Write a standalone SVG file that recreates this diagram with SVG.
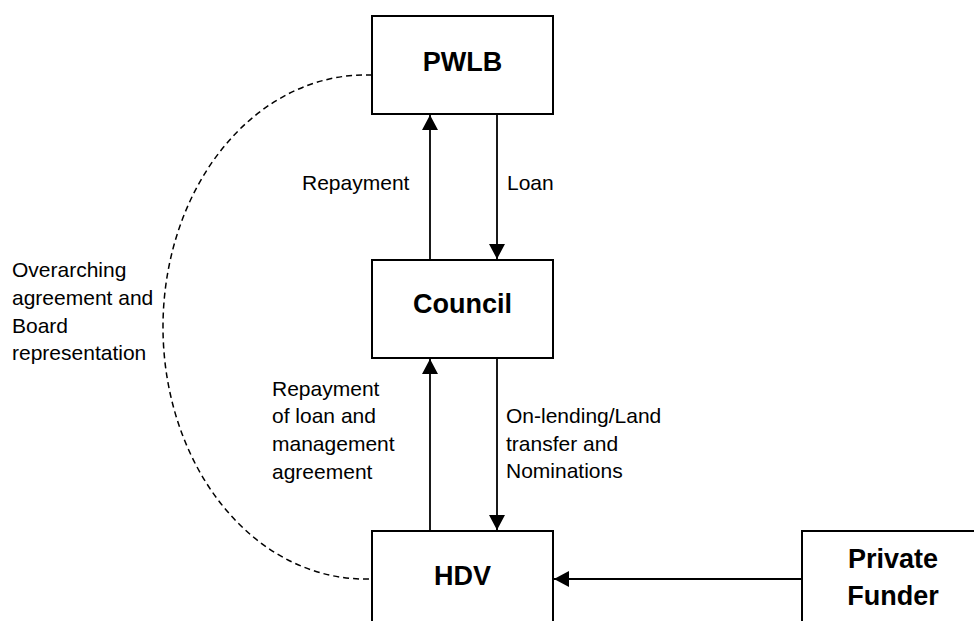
<svg xmlns="http://www.w3.org/2000/svg" width="974" height="621" viewBox="0 0 974 621">
<style>
.box{fill:#fff;stroke:#000;stroke-width:2}
.title{font-family:"Liberation Sans",Arial,sans-serif;font-weight:bold;font-size:27px;text-anchor:middle;fill:#000}
.lbl{font-family:"Liberation Sans",Arial,sans-serif;font-size:21px;fill:#000}
.conn{stroke:#000;stroke-width:1.8;fill:none}
.dash{stroke:#000;stroke-width:1.5;fill:none;stroke-dasharray:6,4}
</style>
<defs>
<marker id="arr" viewBox="0 0 15 16" refX="15" refY="8" markerWidth="15" markerHeight="16" orient="auto" markerUnits="userSpaceOnUse">
<path d="M0,0 L15,8 L0,16 z" fill="#000"/>
</marker>
</defs>
<rect width="974" height="621" fill="#fff"/>
<g id="connectors">
<path class="dash" d="M372,75 L365,75 A202 252 0 0 0 365 579 L372,579"/>
<line class="conn" x1="430" y1="260" x2="430" y2="115" marker-end="url(#arr)"/>
<line class="conn" x1="497" y1="114" x2="497" y2="259" marker-end="url(#arr)"/>
<line class="conn" x1="430" y1="531" x2="430" y2="359" marker-end="url(#arr)"/>
<line class="conn" x1="497" y1="358" x2="497" y2="530" marker-end="url(#arr)"/>
<line class="conn" x1="802" y1="579" x2="554" y2="579" marker-end="url(#arr)"/>
<text class="lbl" x="302" y="190">Repayment</text>
<text class="lbl" x="507" y="190">Loan</text>
<text class="lbl" x="272" y="396">Repayment</text>
<text class="lbl" x="272" y="423">of loan and</text>
<text class="lbl" x="272" y="451">management</text>
<text class="lbl" x="272" y="479">agreement</text>
<text class="lbl" x="506" y="423">On-lending/Land</text>
<text class="lbl" x="506" y="451">transfer and</text>
<text class="lbl" x="506" y="478">Nominations</text>
<text class="lbl" x="12" y="277">Overarching</text>
<text class="lbl" x="12" y="305">agreement and</text>
<text class="lbl" x="12" y="333">Board</text>
<text class="lbl" x="12" y="360">representation</text>
</g>
<g id="pwlb">
<rect class="box" x="372" y="16" width="181" height="98"/>
<text class="title" x="462.5" y="71">PWLB</text>
</g>
<g id="council">
<rect class="box" x="372" y="260" width="181" height="98"/>
<text class="title" x="462.5" y="313">Council</text>
</g>
<g id="hdv">
<rect class="box" x="372" y="531" width="181" height="100"/>
<text class="title" x="462.5" y="585">HDV</text>
</g>
<g id="private-funder">
<rect class="box" x="802" y="531" width="190" height="100"/>
<text class="title" x="893" y="568">Private</text>
<text class="title" x="893" y="605">Funder</text>
</g>
</svg>
